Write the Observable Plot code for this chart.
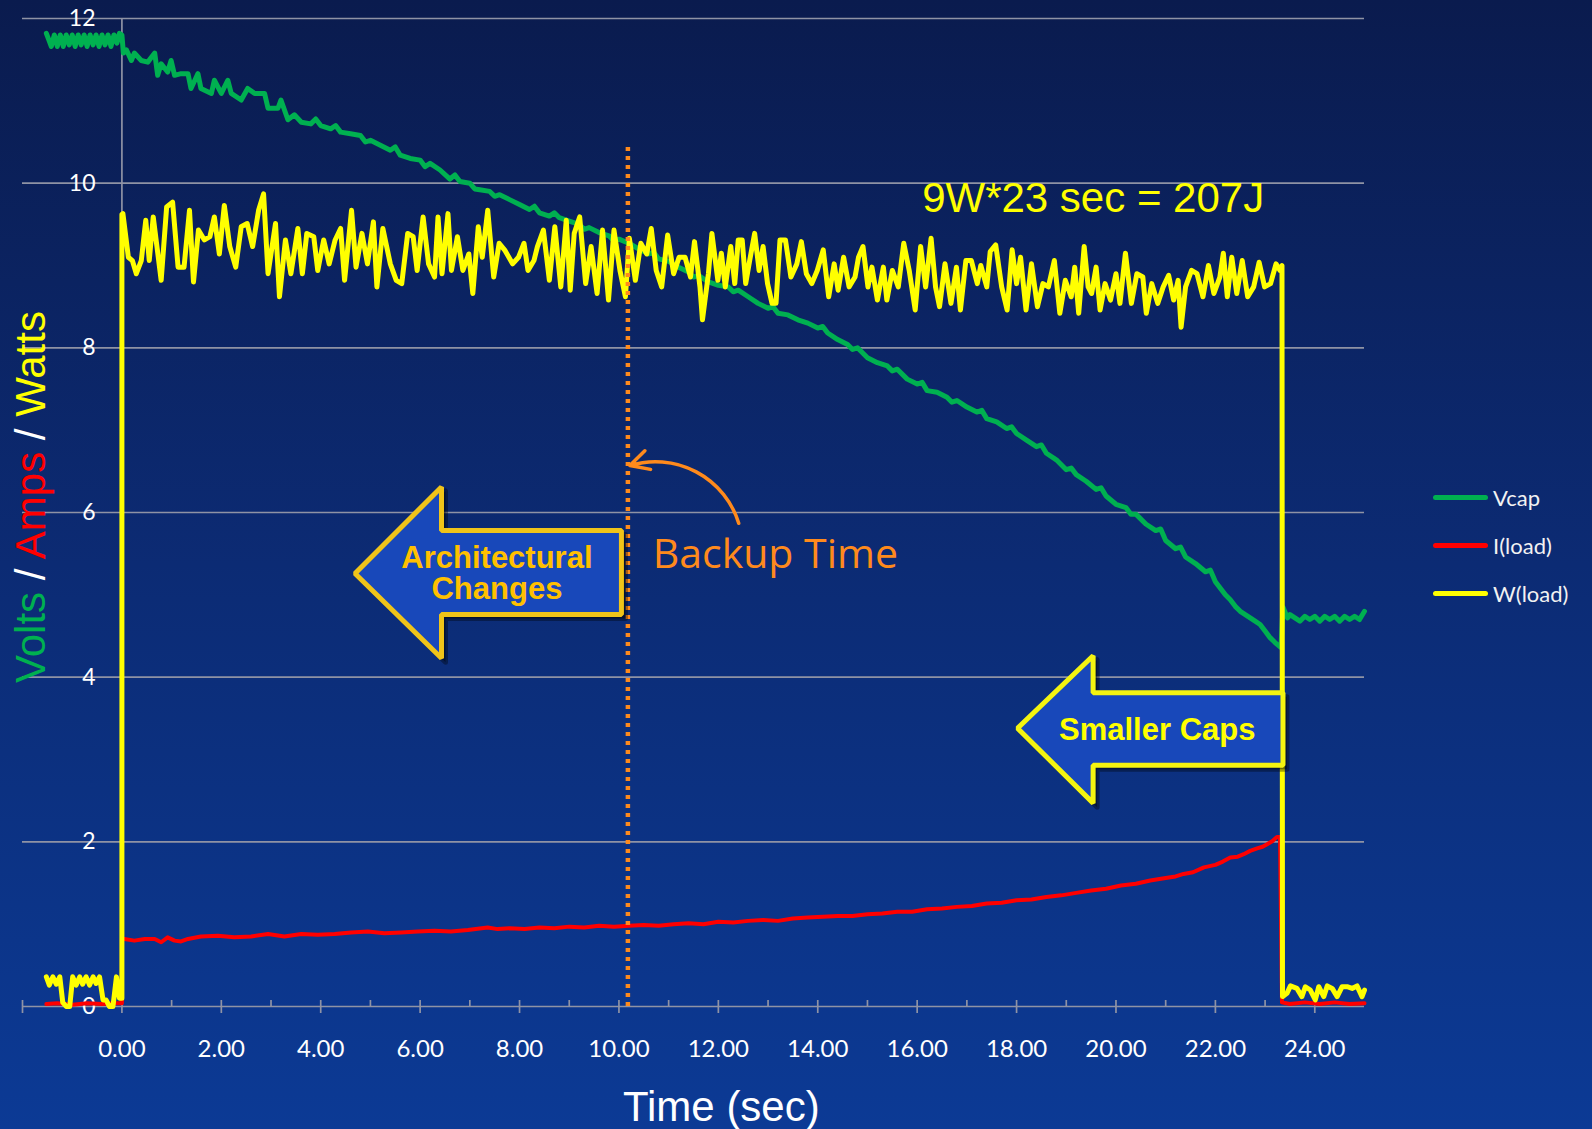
<!DOCTYPE html>
<html><head><meta charset="utf-8">
<script src="https://cdn.jsdelivr.net/npm/d3@7"></script>
<script src="https://cdn.jsdelivr.net/npm/@observablehq/plot@0.6"></script>
<style>
html,body{margin:0;padding:0;}
body{width:1592px;height:1129px;overflow:hidden;background:linear-gradient(180deg,#0a1b4e 0%,#0c2b74 50%,#0c3a95 100%);}
#chart{position:absolute;left:0;top:0;}
</style></head><body><div id="chart"></div>
<script>
// ---------- data ----------
const seriesNames = ["Vcap", "I(load)", "W(load)"];
const seriesColors = ["#00b050", "#ff0000", "#ffff00"];

const xTicks = [0,2,4,6,8,10,12,14,16,18,20,22,24];
const xMajorTicks = [-2,0,2,4,6,8,10,12,14,16,18,20,22,24];
const xMinorTicks = [1,3,5,7,9,11,13,15,17,19,21,23];
const yTicks = [0,2,4,6,8,10,12];

// W(load)
const wattsT = [-1.52,-1.46,-1.39,-1.32,-1.25,-1.19,-1.12,-1.05,-0.99,-0.92,-0.85,-0.79,-0.72,-0.65,-0.58,-0.52,-0.45,-0.38,-0.32,-0.25,-0.18,-0.11,-0.05,0,0,
0.02,0.13,0.21,0.29,0.39,0.48,0.55,0.63,0.79,0.90,1.02,1.13,1.25,1.36,1.44,1.54,1.66,1.77,1.86,1.96,2.06,2.17,2.29,2.40,2.52,2.63,2.75,2.85,2.94,3.09,3.17,3.29,3.40,3.54,3.63,3.72,3.86,3.94,4.06,4.17,4.29,4.40,4.48,4.62,4.71,4.83,4.94,5.06,5.13,5.25,5.40,5.52,5.63,5.75,5.86,5.94,6.06,6.17,6.29,6.36,6.44,6.56,6.63,6.75,6.86,6.98,7.06,7.17,7.25,7.36,7.48,7.59,7.71,7.86,7.98,8.09,8.17,8.29,8.36,8.48,8.60,8.71,8.83,8.94,9.02,9.10,9.21,9.33,9.44,9.56,9.67,9.79,9.90,10.02,10.13,10.21,10.33,10.44,10.56,10.65,10.75,10.86,10.98,11.10,11.21,11.33,11.44,11.52,11.63,11.68,
11.80,11.87,11.99,12.06,12.14,12.25,12.33,12.40,12.48,12.55,12.63,12.73,12.82,12.90,12.99,13.08,13.16,13.24,13.35,13.46,13.58,13.67,13.77,13.88,13.99,14.11,14.22,14.33,14.41,14.52,14.63,14.75,14.82,14.91,15.01,15.09,15.20,15.32,15.39,15.50,15.62,15.73,15.84,15.96,16.07,16.17,16.28,16.37,16.45,16.56,16.68,16.79,16.87,16.98,17.09,17.21,17.28,17.40,17.47,17.58,17.70,17.81,17.91,18.00,18.08,18.19,18.30,18.42,18.53,18.64,18.76,18.87,18.98,19.10,19.17,19.25,19.36,19.44,19.51,19.60,19.68,19.78,19.89,20.00,20.08,20.19,20.31,20.42,20.54,20.61,20.72,20.84,20.95,21.06,21.16,21.25,21.31,21.40,21.52,21.63,21.75,21.86,21.97,22.09,22.16,22.24,22.33,22.43,22.54,22.65,22.77,22.88,22.99,23.11,23.22,23.30,23.34,23.35,
23.44,23.51,23.64,23.74,23.81,23.91,24.01,24.08,24.18,24.25,24.35,24.45,24.55,24.65,24.75,24.85,24.95,25.00];
const wattsV = [0.36,0.26,0.36,0.27,0.36,0.05,0,0,0.36,0.26,0.36,0.27,0.36,0.26,0.36,0.28,0.36,0.08,0.08,0,0,0.36,0.10,0.10,9.62,
9.63,9.10,9.06,8.90,9.06,9.55,9.06,9.59,8.82,9.71,9.77,8.98,8.98,9.67,8.80,9.43,9.31,9.35,9.59,9.14,9.73,9.23,8.98,9.47,9.51,9.23,9.67,9.87,8.90,9.51,8.62,9.31,8.90,9.45,8.90,9.39,9.35,8.94,9.31,9.02,9.31,9.45,8.82,9.67,8.98,9.39,9.02,9.53,8.74,9.45,9.02,8.82,8.78,9.39,9.35,8.94,9.59,9.02,8.86,9.59,8.90,9.63,8.94,9.35,8.94,9.14,8.66,9.47,9.10,9.67,8.86,9.27,9.18,9.02,9.10,9.27,8.94,9.06,9.23,9.43,8.82,9.47,8.74,9.55,8.70,9.39,9.59,8.78,9.23,8.66,9.43,8.58,9.43,8.94,8.62,9.33,8.82,9.27,9.14,9.45,8.94,8.74,9.37,8.90,9.10,9.10,8.86,9.29,8.74,8.34,
8.90,9.39,8.82,9.15,8.74,9.23,8.78,9.31,9.31,8.78,9.06,9.39,8.94,9.23,8.78,8.54,8.54,9.31,9.31,8.86,9.02,9.29,8.90,8.78,8.94,9.19,8.62,9.02,8.70,9.10,8.74,8.86,9.10,9.23,8.74,8.98,8.58,8.98,8.58,8.94,8.74,9.27,8.94,8.46,9.23,8.74,9.33,8.74,8.50,9.02,8.54,8.98,8.46,9.06,9.06,8.78,9.00,8.74,9.17,9.25,8.74,8.46,9.19,8.78,9.10,8.46,9.02,8.50,8.78,8.74,9.06,8.42,8.82,8.62,8.98,8.42,9.23,8.74,8.66,8.98,8.46,8.78,8.58,8.90,8.54,9.15,8.54,8.90,8.86,8.42,8.78,8.54,8.74,8.88,8.58,8.82,8.25,8.74,8.94,8.90,8.62,9.00,8.66,8.86,9.15,8.62,9.10,8.66,9.06,8.62,8.74,9.04,8.74,8.78,9.02,8.94,9.00,0.12,
0.16,0.25,0.22,0.12,0.24,0.20,0.08,0.24,0.12,0.25,0.22,0.12,0.24,0.24,0.22,0.25,0.12,0.20];

// Vcap
const vcapT = [-1.52,-1.47,-1.42,-1.36,-1.30,-1.24,-1.18,-1.12,-1.06,-1.00,-0.94,-0.88,-0.82,-0.76,-0.70,-0.64,-0.58,-0.52,-0.46,-0.40,-0.34,-0.28,-0.22,-0.16,-0.10,-0.05,0.00,
0.03,0.09,0.19,0.25,0.39,0.52,0.66,0.72,0.79,0.92,0.99,1.06,1.19,1.33,1.39,1.53,1.59,1.80,1.86,2.00,2.13,2.20,2.40,2.53,2.67,2.87,2.94,3.14,3.20,3.34,3.47,3.61,
3.8,3.9,4.0,4.2,4.3,4.4,4.6,4.8,4.9,5.0,5.2,5.4,5.5,5.6,5.8,6.0,6.1,6.2,6.4,6.6,6.7,6.8,7.0,7.1,7.2,7.4,7.5,7.6,7.8,8.0,8.2,8.3,8.4,8.6,8.7,8.8,9.0,9.2,9.3,9.4,9.6,9.8,9.9,10.0,10.2,10.4,10.6,10.7,10.8,11.0,11.2,11.4,11.5,11.6,11.8,12.0,12.2,12.3,12.4,12.6,12.8,13.0,13.1,13.2,13.4,13.6,13.8,14.0,14.1,14.2,14.4,14.6,14.7,14.8,15.0,15.2,15.4,15.5,15.6,15.8,16.0,16.1,16.2,16.4,16.6,16.7,16.8,17.0,17.2,17.3,17.4,17.6,17.8,17.9,18.0,18.2,18.4,18.5,18.6,18.8,19.0,19.1,19.2,19.4,19.6,19.7,19.8,20.0,20.2,20.3,20.4,20.6,20.8,20.9,21.0,21.2,21.3,21.4,21.6,21.8,21.9,22.0,22.2,22.3,22.4,22.5,22.6,22.7,22.8,22.9,23.0,23.1,23.2,23.32,23.36,
23.45,23.5,23.6,23.7,23.8,23.9,24.0,24.1,24.2,24.3,24.4,24.5,24.6,24.7,24.8,24.9,25.0];
const vcapV = [11.82,11.74,11.66,11.80,11.66,11.80,11.66,11.80,11.68,11.80,11.66,11.80,11.68,11.80,11.66,11.80,11.68,11.80,11.66,11.80,11.68,11.80,11.66,11.80,11.70,11.82,11.80,
11.58,11.62,11.49,11.58,11.49,11.47,11.58,11.31,11.45,11.35,11.49,11.31,11.33,11.33,11.15,11.33,11.15,11.09,11.25,11.09,11.25,11.09,11.01,11.15,11.09,11.09,10.91,10.91,11.01,10.77,10.83,10.74,
10.72,10.78,10.70,10.66,10.70,10.62,10.60,10.58,10.50,10.52,10.46,10.40,10.44,10.34,10.30,10.28,10.20,10.24,10.16,10.05,10.10,10.02,10.00,9.93,9.92,9.90,9.84,9.86,9.80,9.74,9.68,9.72,9.64,9.60,9.64,9.58,9.54,9.50,9.44,9.46,9.40,9.36,9.30,9.32,9.27,9.20,9.14,9.16,9.08,9.05,8.98,8.92,8.86,8.88,8.80,8.76,8.74,8.68,8.70,8.62,8.54,8.48,8.50,8.42,8.40,8.34,8.30,8.24,8.26,8.18,8.10,8.04,7.98,8.00,7.88,7.82,7.78,7.72,7.74,7.62,7.56,7.58,7.48,7.46,7.40,7.34,7.36,7.28,7.22,7.24,7.14,7.10,7.02,7.04,6.96,6.88,6.80,6.82,6.72,6.64,6.52,6.54,6.46,6.38,6.28,6.30,6.20,6.10,6.06,5.98,5.98,5.86,5.78,5.80,5.66,5.56,5.58,5.46,5.38,5.28,5.30,5.16,5.00,4.94,4.86,4.80,4.76,4.72,4.68,4.64,4.56,4.48,4.42,4.36,4.85,
4.72,4.76,4.72,4.68,4.74,4.70,4.74,4.68,4.74,4.70,4.74,4.68,4.74,4.70,4.74,4.70,4.80];

// I(load)
const ampsT = [-1.52,-1.3,-1.0,-0.7,-0.4,-0.1,0.0,0.0,
0.05,0.25,0.46,0.66,0.79,0.92,1.06,1.19,1.33,1.59,1.93,2.26,2.60,2.94,3.27,3.61,3.94,4.28,4.61,4.95,5.28,5.62,5.95,6.29,6.62,6.96,7.36,7.56,7.8,8.1,8.4,8.7,9.0,9.3,9.6,9.9,10.2,10.5,10.8,11.1,11.4,11.7,12.0,12.3,12.6,12.9,13.2,13.5,13.8,14.1,14.4,14.7,15.0,15.3,15.6,15.9,16.2,16.5,16.8,17.1,17.4,17.7,18.0,18.3,18.6,18.9,19.2,19.5,19.8,20.1,20.4,20.69,21.0,21.2,21.36,21.55,21.77,22.0,22.15,22.30,22.45,22.57,22.7,22.84,22.95,23.04,23.15,23.24,23.30,23.34,
23.5,23.8,24.1,24.4,24.7,25.0];
const ampsV = [0.03,0.04,0.02,0.04,0.03,0.04,0.04,0.82,
0.82,0.80,0.82,0.82,0.78,0.84,0.80,0.79,0.82,0.85,0.86,0.84,0.85,0.88,0.85,0.88,0.87,0.88,0.90,0.91,0.89,0.90,0.91,0.92,0.91,0.93,0.96,0.94,0.95,0.94,0.96,0.95,0.97,0.96,0.98,0.97,0.98,0.99,0.98,1.00,1.01,1.00,1.03,1.02,1.04,1.05,1.04,1.07,1.08,1.09,1.10,1.10,1.12,1.13,1.15,1.15,1.18,1.19,1.21,1.22,1.25,1.26,1.29,1.30,1.33,1.35,1.38,1.41,1.43,1.47,1.49,1.53,1.56,1.58,1.61,1.63,1.69,1.72,1.76,1.81,1.82,1.85,1.89,1.92,1.94,1.97,2.01,2.06,2.06,0.05,
0.03,0.05,0.03,0.05,0.03,0.04];

// annotations (data coordinates: time, value)
const backupTime = 10.18;
const backupTop = 10.47;
const archArrowT = [4.69,6.43,6.43,10.05,10.05,6.43,6.43];
const archArrowV = [5.26,6.31,5.78,5.78,4.76,4.76,4.23];
const capsArrowT = [18.02,19.54,19.54,23.36,23.36,19.54,19.54];
const capsArrowV = [3.38,4.26,3.81,3.81,2.93,2.93,2.47];
const curvedArrow = [{x1: 12.41, y1: 5.87, x2: 10.22, y2: 6.57}];
const labels = [
  {t: 16.10, v: 9.65, text: "9W*23 sec = 207J", color: "#ffff00", size: 42, family: "'Liberation Sans',Arial,sans-serif", weight: "normal", anchor: "start", lh: 1},
  {t: 10.68, v: 5.32, text: "Backup Time", color: "#ff8a1c", size: 41, family: "'Open Sans',Lato,sans-serif", weight: "normal", anchor: "start", lh: 1},
  {t: 7.545, v: 4.95, text: "Architectural\nChanges", color: "#ffc000", size: 31, family: "'Liberation Sans',Arial,sans-serif", weight: "bold", anchor: "middle", lh: 1.0},
  {t: 20.83, v: 3.24, text: "Smaller Caps", color: "#ffff00", size: 31, family: "'Liberation Sans',Arial,sans-serif", weight: "bold", anchor: "middle", lh: 1}
];

// ---------- build ----------
const rows = (T, V) => T.map((t, i) => ({t, v: V[i]}));
const vcap = rows(vcapT, vcapV), amps = rows(ampsT, ampsV), watts = rows(wattsT, wattsV);
const arch = rows(archArrowT, archArrowV), caps = rows(capsArrowT, capsArrowV);
const grid = "#8f93a5";
const orange = "#ff8a1c";
const lato = "Lato,'Noto Sans',sans-serif";

const plot = Plot.plot({
  width: 1592, height: 1129,
  marginLeft: 22, marginRight: 228, marginTop: 18, marginBottom: 123,
  x: {domain: [-2, 25], axis: null},
  y: {domain: [0, 12], axis: null},
  style: {background: "transparent", color: "white", fontFamily: lato},
  marks: [
    Plot.gridY(yTicks, {stroke: grid, strokeOpacity: 1, strokeWidth: 1.7}),
    Plot.ruleX([0], {stroke: grid, strokeWidth: 1.7}),
    Plot.ruleX(xMajorTicks, {y1: 0, y2: 0, insetTop: -6, insetBottom: -7, stroke: grid, strokeWidth: 1.7}),
    Plot.ruleX(xMinorTicks, {y1: 0, y2: 0, insetTop: -6, insetBottom: 0, stroke: grid, strokeWidth: 1.7}),
    Plot.text(yTicks, {y: d => d, frameAnchor: "left", dx: 73, textAnchor: "end", text: d => String(d), fontSize: 23, fill: "white", fontFamily: lato}),
    Plot.text(xTicks, {x: d => d, frameAnchor: "bottom", dy: 33, lineAnchor: "top", text: d => d.toFixed(2), fontSize: 24, fill: "white", fontFamily: lato}),
    Plot.text(["Time (sec)"], {x: 12.06, frameAnchor: "bottom", dy: 114, lineAnchor: "bottom", text: d => d, fontSize: 42, fill: "white", fontFamily: "'Liberation Sans',Arial,sans-serif"}),
    // series
    Plot.line(vcap, {x: "t", y: "v", stroke: seriesColors[0], strokeWidth: 5}),
    Plot.line(amps, {x: "t", y: "v", stroke: seriesColors[1], strokeWidth: 4}),
    Plot.line(watts, {x: "t", y: "v", stroke: seriesColors[2], strokeWidth: 5}),
    // backup time marker
    Plot.ruleX([backupTime], {y1: 0, y2: backupTop, stroke: orange, strokeWidth: 4.5, strokeDasharray: "4,5"}),
    Plot.arrow(curvedArrow, {x1: "x1", y1: "y1", x2: "x2", y2: "y2", bend: -45, stroke: orange, strokeWidth: 3.5, headLength: 9, headAngle: 55}),
    // block arrows
    Plot.line(arch, {x: "t", y: "v", curve: "linear-closed", dx: 4, dy: 4, fill: "#000", fillOpacity: 0.35, stroke: "#000", strokeOpacity: 0.35, strokeWidth: 5}),
    Plot.line(arch, {x: "t", y: "v", curve: "linear-closed", fill: "#1848ba", stroke: "#f0c419", strokeWidth: 5, strokeLinejoin: "miter"}),
    Plot.line(caps, {x: "t", y: "v", curve: "linear-closed", dx: 4, dy: 4, fill: "#000", fillOpacity: 0.35, stroke: "#000", strokeOpacity: 0.35, strokeWidth: 5}),
    Plot.line(caps, {x: "t", y: "v", curve: "linear-closed", fill: "#1848ba", stroke: "#f4f410", strokeWidth: 5, strokeLinejoin: "miter"}),
    // labels
    ...labels.map(l => Plot.text([l], {x: "t", y: "v", text: "text", fill: l.color, fontSize: l.size, fontFamily: l.family, fontWeight: l.weight, textAnchor: l.anchor, lineAnchor: "bottom", lineHeight: l.lh}))
  ]
});
document.getElementById("chart").append(plot);

// y-axis title (multi-coloured)
const svg = d3.select(plot);
const yt = svg.append("text")
  .attr("transform", "translate(45,497) rotate(-90)")
  .attr("text-anchor", "middle")
  .style("white-space", "pre")
  .style("font-family", "'Liberation Sans',Arial,sans-serif")
  .style("font-size", "42px");
[["Volts", "#00b050"], [" / ", "#ffffff"], ["Amps", "#ff0000"], [" / ", "#ffffff"], ["Watts", "#ffff00"]]
  .forEach(([s, c]) => yt.append("tspan").attr("fill", c).text(s));

// legend
const lg = svg.append("g");
seriesNames.forEach((name, i) => {
  const cy = 497.5 + 48 * i;
  lg.append("line").attr("x1", 1435.5).attr("x2", 1485.5).attr("y1", cy).attr("y2", cy)
    .attr("stroke", seriesColors[i]).attr("stroke-width", 5).attr("stroke-linecap", "round");
  lg.append("text").attr("x", 1493).attr("y", cy + 8.5).attr("fill", "#f2f2f2")
    .style("font-family", lato).style("font-size", "22px").attr("text-anchor", "start").text(name);
});
</script></body></html>
